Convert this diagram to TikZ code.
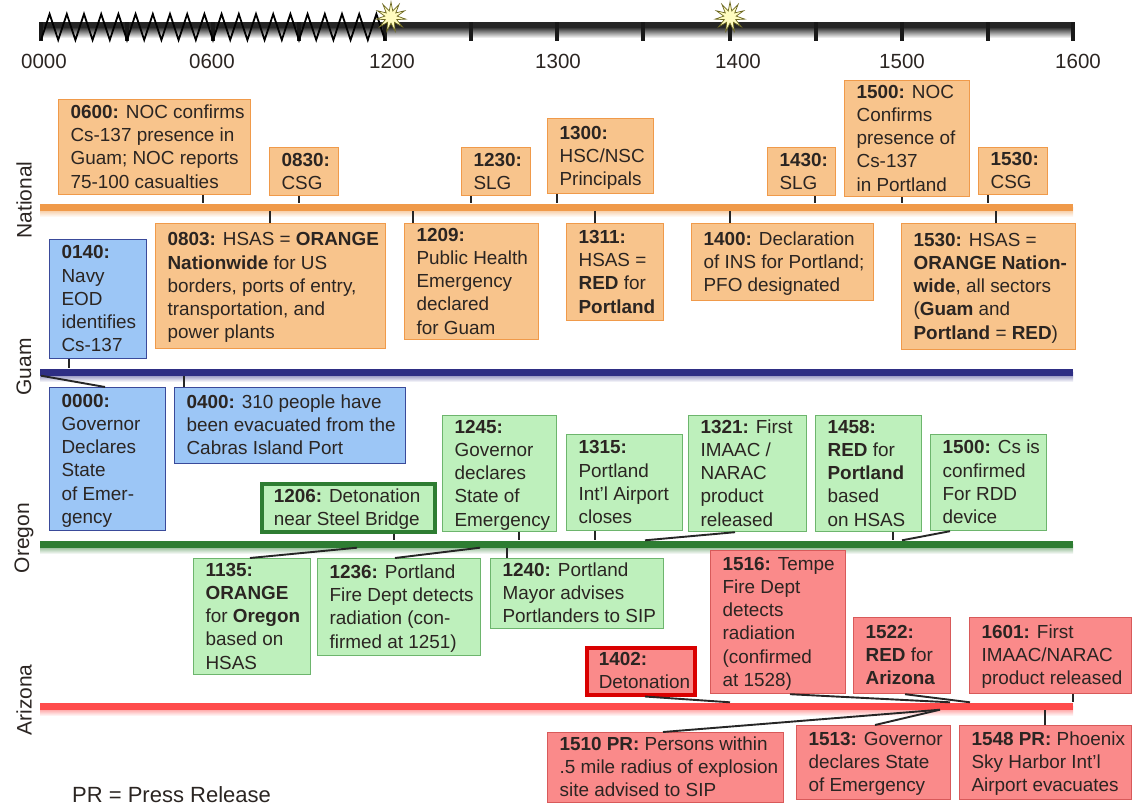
\documentclass[tikz,border=0pt]{standalone}
\usepackage{fontspec}
\setmainfont{Liberation Sans}
\usetikzlibrary{shapes.geometric}
\definecolor{natline}{HTML}{F09A4A}
\definecolor{natfill}{HTML}{F8C48C}
\definecolor{guamline}{HTML}{3A4A9A}
\definecolor{guambar}{HTML}{2E2E84}
\definecolor{guamfill}{HTML}{9CC6F6}
\definecolor{orline}{HTML}{6DB56D}
\definecolor{orfill}{HTML}{BEF0BC}
\definecolor{orbar}{HTML}{2E7D32}
\definecolor{azline}{HTML}{D85A5A}
\definecolor{azfill}{HTML}{FA8A8A}
\definecolor{inktext}{HTML}{2B2522}
\tikzset{
    evnode/.style={draw, rectangle, anchor=north west, inner sep=0pt, text=inktext,
        font=\fontsize{18.9}{23.2}\selectfont, line width=1.2pt},
    natbox/.style={evnode, draw=natline, fill=natfill},
    guambox/.style={evnode, draw=guamline, fill=guamfill},
    orbox/.style={evnode, draw=orline, fill=orfill},
    azbox/.style={evnode, draw=azline, fill=azfill},
    tieline/.style={draw=black!85, line width=1.9pt},
    hourlabl/.style={font=\fontsize{20.5}{24}\selectfont, text=inktext},
    sidelabl/.style={font=\fontsize{21}{24}\selectfont, text=inktext, rotate=90},
    flash/.style={star, star points=11, star point ratio=2.4, inner sep=0pt, minimum size=30pt, fill=yellow!25!white, draw=olive!70!black, line width=0.7pt},
}
\newcommand{\evbox}[7]{\node[#1, minimum width=#5pt, minimum height=#6pt] (#2) at (#3,#4)
    {\makebox[#5pt][l]{\hspace{12pt}\raisebox{-1.5pt}[\height][\depth]{\begin{tabular}{@{}l@{}}#7\end{tabular}}}};}
\newcommand{\tline}[4]{\draw[tieline] (#1 -| #2,0) -- (#3 -| #4,0);}
\newcommand{\timebar}[3]{
    \shade[top color=#2!75!white, bottom color=white] (40,#3) rectangle (1073,#3+10);
    \node[rectangle, draw=none, fill=#2, inner sep=0pt, minimum width=1033pt, minimum height=7pt] (#1) at (556.5,#3) {};}
\begin{document}
\begin{tikzpicture}[x=1pt,y=-1pt]
    \useasboundingbox (0,0) rectangle (1132,808);
    % clock axis
    \shade[top color=black, bottom color=white] (40,25) rectangle (1073,38);
    \node[rectangle, draw=none, fill=black!85, inner sep=0pt, minimum width=1033pt, minimum height=5pt] (axis) at (556.5,25) {};
    \foreach \tx in {41,127,213,299,385,471,557,643,730,816,902,988,1073}{
        \draw[line width=3.2pt, black!90] (axis.north -| \tx,0) -- (\tx,41);
    }
    % sawtooth up to 1200
    \draw[line width=1.8pt, black] (41,40)
        \foreach \zx in {0,...,19}{ -- ({41+8.6+17.2*\zx},14) -- ({41+17.2+17.2*\zx},40) };
    % flashes
    \node[flash] (flashA) at (391,17) {};
    \node[flash] (flashB) at (730,17) {};
    % hours
    \node[hourlabl] (h0000) at (44,61) {0000};
    \node[hourlabl] (h0600) at (212,61) {0600};
    \node[hourlabl] (h1200) at (392,61) {1200};
    \node[hourlabl] (h1300) at (558,61) {1300};
    \node[hourlabl] (h1400) at (738,61) {1400};
    \node[hourlabl] (h1500) at (902,61) {1500};
    \node[hourlabl] (h1600) at (1078,61) {1600};
    % the four bars
    \timebar{barNat}{natline}{207}
    \timebar{barGuam}{guambar}{372}
    \timebar{barOr}{orbar}{544}
    \timebar{barAz}{red!70!white}{706}
    % side labels
    \node[sidelabl] (sideNat) at (24,200) {National};
    \node[sidelabl] (sideGuam) at (24,367) {Guam};
    \node[sidelabl] (sideOr) at (24,538) {Oregon};
    \node[sidelabl] (sideAz) at (24,700) {Arizona};
    % national row 1
    \evbox{natbox}{ev0600}{58}{99}{192}{95}{\textbf{0600:} NOC confirms\\Cs-137 presence in\\Guam; NOC reports\\75-100 casualties}
    \evbox{natbox}{ev0830}{269}{147}{69}{48}{\textbf{0830:}\\CSG}
    \evbox{natbox}{ev1230}{461}{147}{69}{48}{\textbf{1230:}\\SLG}
    \evbox{natbox}{ev1300}{547}{118}{106}{75}{\textbf{1300:}\\HSC/NSC\\Principals}
    \evbox{natbox}{ev1430}{767}{147}{68}{48}{\textbf{1430:}\\SLG}
    \evbox{natbox}{ev1500}{844}{80}{125}{115}{\textbf{1500:} NOC\\Confirms\\presence of\\Cs-137\\in Portland}
    \evbox{natbox}{ev1530}{978}{147}{69}{47}{\textbf{1530:}\\CSG}
    % national row 2
    \evbox{natbox}{ev0803}{155}{223}{230}{125}{\textbf{0803:} HSAS = \textbf{ORANGE}\\\textbf{Nationwide} for US\\borders, ports of entry,\\transportation, and\\power plants}
    \evbox{natbox}{ev1209}{404}{223}{134}{116}{\textbf{1209:}\\Public Health\\Emergency\\declared\\for Guam}
    \evbox{natbox}{ev1311}{566}{223}{97}{97}{\textbf{1311:}\\HSAS =\\\textbf{RED} for\\\textbf{Portland}}
    \evbox{natbox}{ev1400}{691}{223}{182}{77}{\textbf{1400:} Declaration\\of INS for Portland;\\PFO designated}
    \evbox{natbox}{ev1530b}{901}{223}{174}{126}{\textbf{1530:} HSAS =\\\textbf{ORANGE Nation-}\\\textbf{wide}, all sectors\\(\textbf{Guam} and\\\textbf{Portland} = \textbf{RED})}
    % guam
    \evbox{guambox}{ev0140}{49}{239}{97}{119}{\textbf{0140:}\\Navy\\EOD\\identifies\\Cs-137}
    \evbox{guambox}{ev0000}{49}{387}{116}{143}{\textbf{0000:}\\Governor\\Declares\\State\\of Emer-\\gency}
    \evbox{guambox}{ev0400}{174}{387}{231}{76}{\textbf{0400:} 310 people have\\been evacuated from the\\Cabras Island Port}
    % oregon row 1
    \evbox{orbox, draw=orbar, line width=3.5pt}{ev1206}{260}{482}{173}{48}{\textbf{1206:} Detonation\\near Steel Bridge}
    \evbox{orbox}{ev1245}{442}{415}{114}{115}{\textbf{1245:}\\Governor\\declares\\State of\\Emergency}
    \evbox{orbox}{ev1315}{566}{434}{116}{96}{\textbf{1315:}\\Portland\\Int'l Airport\\closes}
    \evbox{orbox}{ev1321}{688}{415}{118}{115}{\textbf{1321:} First\\IMAAC /\\NARAC\\product\\released}
    \evbox{orbox}{ev1458}{815}{415}{106}{115}{\textbf{1458:}\\\textbf{RED} for\\\textbf{Portland}\\based\\on HSAS}
    \evbox{orbox}{ev1500b}{930}{434}{116}{96}{\textbf{1500:} Cs is\\confirmed\\For RDD\\device}
    % oregon row 2
    \evbox{orbox}{ev1135}{193}{558}{117}{116}{\textbf{1135:}\\\textbf{ORANGE}\\for \textbf{Oregon}\\based on\\HSAS}
    \evbox{orbox}{ev1236}{317}{558}{163}{97}{\textbf{1236:} Portland\\Fire Dept detects\\radiation (con-\\firmed at 1251)}
    \evbox{orbox}{ev1240}{490}{558}{173}{68}{\textbf{1240:} Portland\\Mayor advises\\Portlanders to SIP}
    % arizona row 1
    \evbox{azbox, draw=red!85!black, line width=3.5pt}{ev1402}{585}{646}{108}{47}{\textbf{1402:}\\Detonation}
    \evbox{azbox}{ev1516}{710}{550}{135}{143}{\textbf{1516:} Tempe\\Fire Dept\\detects\\radiation\\(confirmed\\at 1528)}
    \evbox{azbox}{ev1522}{853}{617}{97}{76}{\textbf{1522:}\\\textbf{RED} for\\\textbf{Arizona}}
    \evbox{azbox}{ev1601}{969}{617}{162}{76}{\textbf{1601:} First\\IMAAC/NARAC\\product released}
    % arizona row 2
    \evbox{azbox}{ev1510}{547}{732}{236}{67}{\textbf{1510 PR:} Persons within\\.5 mile radius of explosion\\site advised to SIP}
    \evbox{azbox}{ev1513}{796}{725}{154}{74}{\textbf{1513:} Governor\\declares State\\of Emergency}
    \evbox{azbox}{ev1548}{959}{725}{172}{74}{\textbf{1548 PR:} Phoenix\\Sky Harbor Int'l\\Airport evacuates}
    % ties for national
    \tline{ev0600.south}{203}{barNat.north}{203}
    \tline{ev0830.south}{299}{barNat.north}{299}
    \tline{ev1230.south}{471}{barNat.north}{471}
    \tline{ev1300.south}{557}{barNat.north}{557}
    \tline{ev1430.south}{815}{barNat.north}{815}
    \tline{ev1500.south}{902}{barNat.north}{902}
    \tline{ev1530.south}{988}{barNat.north}{988}
    \tline{ev0803.north}{270}{barNat.south}{270}
    \tline{ev1209.north}{413}{barNat.south}{413}
    \tline{ev1311.north}{595}{barNat.south}{595}
    \tline{ev1400.north}{730}{barNat.south}{730}
    \tline{ev1530b.north}{996}{barNat.south}{996}
    % ties for guam
    \tline{ev0140.south}{69}{barGuam.north}{69}
    \tline{ev0000.north}{105}{barGuam.south}{41}
    \tline{ev0400.north}{184}{barGuam.south}{184}
    % ties for oregon
    \tline{ev1206.south}{394}{barOr.north}{394}
    \tline{ev1245.south}{519}{barOr.north}{519}
    \tline{ev1315.south}{595}{barOr.north}{595}
    \tline{ev1321.south}{735}{barOr.north}{645}
    \tline{ev1458.south}{893}{barOr.north}{893}
    \tline{ev1500b.south}{950}{barOr.north}{902}
    \tline{ev1135.north}{250}{barOr.south}{357}
    \tline{ev1236.north}{395}{barOr.south}{480}
    \tline{ev1240.north}{507}{barOr.south}{507}
    % ties for arizona
    \tline{ev1402.south}{645}{barAz.north}{730}
    \tline{ev1516.south}{790}{barAz.north}{950}
    \tline{ev1522.south}{905}{barAz.north}{970}
    \tline{ev1601.south}{1073}{barAz.north}{1073}
    \tline{ev1510.north}{663}{barAz.south}{940}
    \tline{ev1513.north}{875}{barAz.south}{940}
    \tline{ev1548.north}{1045}{barAz.south}{1045}
    % note
    \node[font=\fontsize{22}{24}\selectfont, text=inktext, anchor=west, inner sep=0pt] (note) at (72,795) {PR = Press Release};
\end{tikzpicture}
\end{document}
